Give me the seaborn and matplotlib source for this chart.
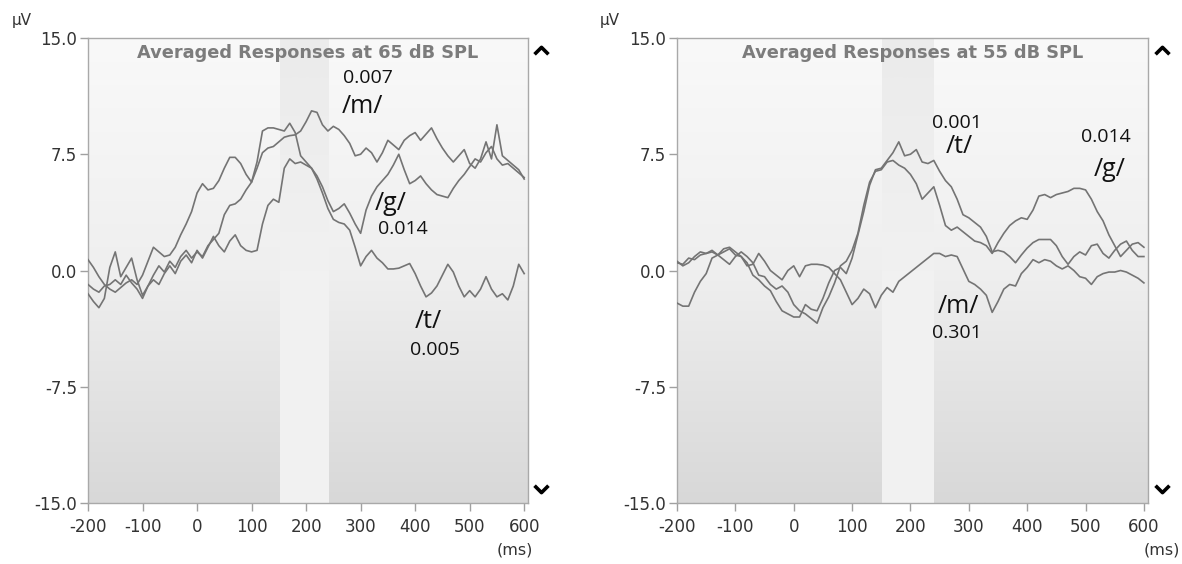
import numpy as np
import pandas as pd
import matplotlib
matplotlib.use("Agg")
import matplotlib.pyplot as plt
import seaborn as sns
from matplotlib.colors import LinearSegmentedColormap
from matplotlib.path import Path

plt.rcParams['axes.unicode_minus'] = False
plt.rcParams['font.family'] = ['DejaVu Sans']

# ---------------- data ----------------
time_ms = list(range(-200, 601, 10))

# 65 dB SPL panel
left_m = [-0.9, -1.2, -1.4, -1.0, -0.9, -0.6, -0.9, -0.3, -0.8, -1.2,
          -1.8, -1.0, -0.3, 0.3, -0.1, 0.6, 0.2, 0.9, 1.3, 0.8,
          1.2, 0.9, 1.6, 2.0, 2.4, 3.6, 4.2, 4.3, 4.6, 5.2,
          5.7, 6.6, 7.6, 7.9, 8.0, 8.3, 8.6, 8.7, 8.75, 9.0,
          9.6, 10.3, 10.2, 9.4, 9.0, 9.3, 9.1, 8.7, 8.2, 7.4,
          7.5, 7.9, 7.6, 7.0, 7.6, 8.4, 8.1, 7.8, 8.4, 8.7,
          8.9, 8.4, 8.8, 9.2, 8.5, 7.9, 7.4, 7.0, 7.4, 7.8,
          6.9, 6.6, 7.2, 8.3, 7.2, 9.4, 7.4, 7.1, 6.8, 6.5,
          5.9]
left_g = [0.7, 0.2, -0.4, -0.9, -1.2, -1.4, -1.1, -0.8, -0.6, -0.9,
          -0.3, 0.6, 1.5, 1.2, 0.9, 1.0, 1.5, 2.3, 3.0, 3.8,
          5.0, 5.6, 5.2, 5.3, 5.8, 6.6, 7.3, 7.3, 6.9, 6.2,
          5.7, 7.0, 9.0, 9.2, 9.2, 9.1, 9.0, 9.5, 8.9, 7.4,
          7.0, 6.6, 6.1, 5.4, 4.5, 3.8, 4.0, 4.3, 3.7, 3.0,
          2.4, 3.9, 4.8, 5.4, 5.8, 6.2, 6.8, 7.5, 6.5, 5.6,
          5.8, 6.1, 5.6, 5.2, 4.9, 4.8, 4.7, 5.3, 5.8, 6.2,
          6.7, 7.2, 7.0, 7.6, 8.0, 7.2, 6.8, 6.9, 6.6, 6.3,
          6.0]
left_t = [-1.5, -2.0, -2.4, -1.8, 0.2, 1.2, -0.4, 0.2, 0.8, -0.6,
          -1.6, -1.0, -0.6, -0.9, -0.2, 0.3, -0.2, 0.6, 1.0, 0.5,
          1.3, 0.8, 1.5, 2.2, 1.6, 1.2, 1.9, 2.3, 1.6, 1.3,
          1.2, 1.3, 3.0, 4.2, 4.6, 4.4, 6.6, 7.2, 6.9, 7.0,
          6.8, 6.6, 5.9, 5.0, 4.0, 3.3, 3.1, 3.0, 2.6, 1.5,
          0.3, 0.9, 1.3, 0.8, 0.5, 0.1, 0.1, 0.15, 0.3, 0.45,
          -0.2, -1.0, -1.7, -1.45, -1.0, -0.3, 0.4, -0.1, -1.0, -1.7,
          -1.3, -1.7, -1.2, -0.4, -1.2, -1.7, -1.5, -1.9, -1.0, 0.4,
          -0.2]

# 55 dB SPL panel
right_t = [0.5, 0.4, 0.8, 0.7, 1.0, 1.1, 1.2, 1.0, 1.4, 1.5,
           1.2, 0.9, 0.5, -0.3, -0.6, -1.0, -1.3, -2.0, -2.6, -2.8,
           -3.0, -3.0, -2.2, -2.5, -2.6, -1.8, -0.8, 0.0, 0.2, -0.2,
           0.8, 2.3, 3.8, 5.5, 6.5, 6.6, 7.1, 7.6, 8.3, 7.4,
           7.5, 7.8, 7.0, 6.9, 7.1, 6.4, 5.8, 5.4, 4.6, 3.6,
           3.4, 3.1, 2.8, 2.2, 1.2, 1.3, 1.2, 0.9, 0.5, 1.0,
           1.45, 1.8, 2.0, 2.0, 2.0, 1.6, 0.9, 0.4, 0.9, 1.2,
           1.0, 1.6, 1.7, 1.1, 0.8, 1.3, 1.7, 1.9, 1.3, 0.9,
           0.9]
right_g = [0.6, 0.3, 0.5, 0.9, 1.2, 1.1, 1.3, 1.0, 0.7, 0.4,
           0.9, 1.2, 0.9, 0.5, -0.3, -0.4, -0.9, -1.2, -1.0, -1.4,
           -2.2, -2.6, -2.8, -3.1, -3.4, -2.4, -1.7, -0.8, 0.3, 0.6,
           1.3, 2.4, 4.2, 5.7, 6.4, 6.5, 7.0, 7.1, 6.8, 6.6,
           6.2, 5.6, 4.6, 5.0, 5.4, 4.2, 2.9, 2.6, 2.8, 2.5,
           2.2, 1.9, 1.8, 1.6, 1.1, 1.8, 2.4, 2.9, 3.2, 3.4,
           3.3, 3.9, 4.8, 4.9, 4.7, 4.9, 5.0, 5.1, 5.3, 5.3,
           5.2, 4.6, 3.8, 3.2, 2.3, 1.6, 0.9, 1.3, 1.7, 1.8,
           1.5]
right_m = [-2.1, -2.3, -2.3, -1.4, -0.7, -0.2, 0.8, 1.0, 1.2, 1.4,
           1.0, 0.9, 0.3, 0.4, 1.1, 0.6, 0.0, -0.3, -0.6, 0.0,
           0.3, -0.4, 0.3, 0.4, 0.4, 0.35, 0.2, -0.2, -0.6, -1.4,
           -2.2, -1.8, -1.2, -1.5, -2.4, -1.6, -1.1, -1.4, -0.7, -0.4,
           -0.1, 0.2, 0.5, 0.8, 1.1, 1.1, 0.9, 1.0, 0.9, 0.1,
           -0.7, -0.9, -1.2, -1.6, -2.7, -2.0, -1.2, -0.9, -1.0, -0.2,
           0.2, 0.7, 0.5, 0.7, 0.6, 0.3, 0.1, 0.3, 0.0, -0.4,
           -0.5, -0.9, -0.4, -0.2, -0.1, -0.1, 0.0, -0.1, -0.3, -0.5,
           -0.8]

titles = ["Averaged Responses at 65 dB SPL", "Averaged Responses at 55 dB SPL"]
x_ticks = [-200, -100, 0, 100, 200, 300, 400, 500, 600]
y_ticks = [-15.0, -7.5, 0.0, 7.5, 15.0]
band_ms = [152, 241]

# annotation texts: (text, x_ms, y_uV, size)
left_notes = [("0.007", 313, 12.4, 14), ("/m/", 303, 10.6, 18),
              ("/g/", 355, 4.3, 18), ("0.014", 378, 2.7, 14),
              ("/t/", 425, -3.3, 18), ("0.005", 436, -5.1, 14)]
right_notes = [("0.001", 279, 9.5, 14), ("/t/", 284, 8.0, 18),
               ("0.014", 535, 8.6, 14), ("/g/", 542, 6.5, 18),
               ("/m/", 282, -2.3, 18), ("0.301", 279, -4.0, 14)]

def long_df(series):
    frames = []
    for name, vals in series.items():
        frames.append(pd.DataFrame({"time": time_ms, "uV": vals, "phoneme": name}))
    return pd.concat(frames, ignore_index=True)

df_left = long_df({"/m/": left_m, "/g/": left_g, "/t/": left_t})
df_right = long_df({"/t/": right_t, "/g/": right_g, "/m/": right_m})

# ---------------- figure ----------------
W, H = 1182, 564
fig = plt.figure(figsize=(W / 100, H / 100), dpi=100)
fig.patch.set_facecolor("white")

def px_axes(l, t, r, b):
    return fig.add_axes([l / W, 1 - b / H, (r - l) / W, (b - t) / H])

ax1 = px_axes(88, 38, 528, 503)
ax2 = px_axes(677, 38, 1148, 503)

bg_cmap = LinearSegmentedColormap.from_list("bg", ["#f9f9f9", "#efefef", "#d8d8d8"])
band_cmap = LinearSegmentedColormap.from_list("band", ["#ebebeb", "#f1f1f1", "#f2f2f2"])
grad = np.linspace(0, 1, 256).reshape(-1, 1)

XMIN, XMAX = -200, 607
chev_up = Path([(-1, -0.55), (0, 0.45), (1, -0.55)], [Path.MOVETO, Path.LINETO, Path.LINETO])
chev_dn = Path([(-1, 0.55), (0, -0.45), (1, 0.55)], [Path.MOVETO, Path.LINETO, Path.LINETO])

for ax, df, title, notes in [(ax1, df_left, titles[0], left_notes),
                             (ax2, df_right, titles[1], right_notes)]:
    ax.imshow(grad, extent=[XMIN, XMAX, -15, 15], aspect="auto", cmap=bg_cmap,
              origin="upper", zorder=0, interpolation="bilinear")
    ax.imshow(grad, extent=[band_ms[0], band_ms[1], -15, 15], aspect="auto",
              cmap=band_cmap, origin="upper", zorder=0.5, interpolation="bilinear")
    sns.lineplot(data=df, x="time", y="uV", hue="phoneme",
                 palette={"/m/": "#747474", "/g/": "#747474", "/t/": "#747474"},
                 ax=ax, legend=False, linewidth=1.2, errorbar=None, zorder=3)
    ax.set_xlim(XMIN, XMAX)
    ax.set_ylim(-15, 15)
    ax.set_xticks(x_ticks)
    ax.set_xticklabels([str(v) for v in x_ticks])
    ax.set_yticks(y_ticks)
    ax.set_yticklabels([f"{v:.1f}" for v in y_ticks])
    ax.set_xlabel("")
    ax.set_ylabel("")
    for sp in ax.spines.values():
        sp.set_color("#a9a9a9")
        sp.set_linewidth(1.0)
    ax.tick_params(direction="out", length=6, width=1, color="#a0a0a0",
                   labelcolor="#333333", labelsize=12)
    ax.tick_params(axis="x", pad=5)
    ax.tick_params(axis="y", pad=2)
    ax.text(0.5, 0.988, title, transform=ax.transAxes, ha="center", va="top",
            fontsize=12.8, fontweight="bold", color="#7c7c7c", zorder=5)
    for txt, xv, yv, sz in notes:
        ax.text(xv, yv, txt, ha="center", va="center", fontsize=sz,
                family=["Open Sans", "DejaVu Sans"], color="#111111", zorder=6)
    ax.plot([1.03], [0.974], transform=ax.transAxes, marker=chev_up, markersize=10,
            markerfacecolor="none", markeredgecolor="black", markeredgewidth=2.6,
            clip_on=False, linestyle="none")
    ax.plot([1.03], [0.03], transform=ax.transAxes, marker=chev_dn, markersize=10,
            markerfacecolor="none", markeredgecolor="black", markeredgewidth=2.6,
            clip_on=False, linestyle="none")

# unit labels
for xpx in (22, 610):
    fig.text(xpx / W, 1 - 20 / H, "µV", ha="center", va="center",
             fontsize=11, color="#333333")
for xpx in (533, 1180):
    fig.text(xpx / W, 1 - 550 / H, "(ms)", ha="right", va="center",
             fontsize=11.5, color="#333333")

fig.savefig("out.png", dpi=100, facecolor="white")
